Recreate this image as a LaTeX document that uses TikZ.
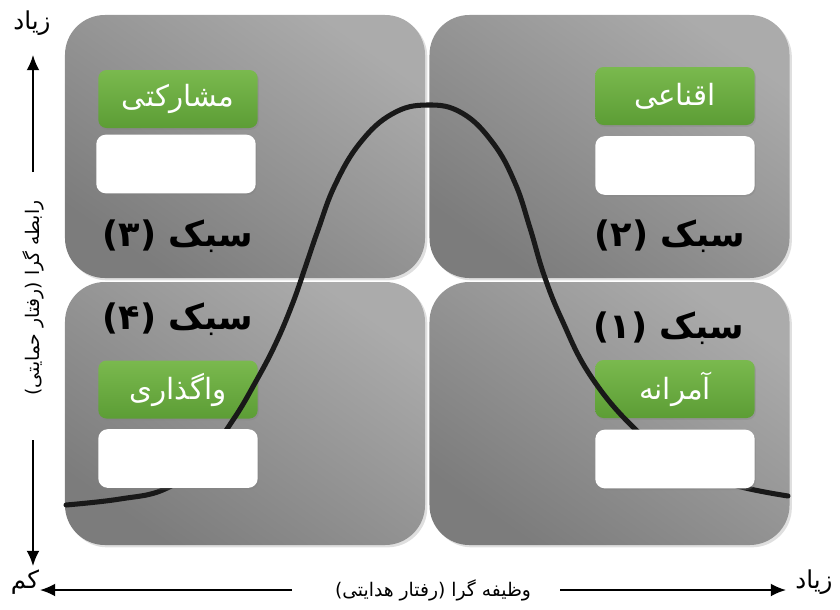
\documentclass[tikz,border=0pt]{standalone}
\usepackage{fontspec}
\usetikzlibrary{shadows,arrows.meta}
\newfontfamily\arabicfont[Script=Arabic]{DejaVu Sans}
\TeXXeTstate=1
\definecolor{gtop}{HTML}{7AB94E}
\definecolor{gbot}{HTML}{5C9D35}
\definecolor{ptop}{HTML}{ABABAB}
\definecolor{pbot}{HTML}{7C7C7C}
\begin{document}
\begin{tikzpicture}[x=0.03cm,y=-0.03cm,
  panel/.style={rounded corners=34pt, top color=ptop, bottom color=pbot, shading angle=-35,
    minimum width=10.8cm, minimum height=7.89cm, inner sep=0pt,
    drop shadow={opacity=0.25, shadow xshift=2pt, shadow yshift=-2pt}},
  greenbox/.style={rounded corners=7pt, top color=gtop, bottom color=gbot,
    minimum width=4.78cm, minimum height=1.74cm, inner sep=0pt, text=white,
    font=\arabicfont\fontsize{25}{28}\selectfont,
    drop shadow={opacity=0.3, shadow xshift=1pt, shadow yshift=-1.5pt}},
  whitebox/.style={rounded corners=8pt, fill=white,
    minimum width=4.78cm, minimum height=1.76cm, inner sep=0pt,
    drop shadow={opacity=0.3, shadow xshift=1pt, shadow yshift=-1.5pt}},
  style/.style={font=\arabicfont\bfseries\fontsize{30}{34}\selectfont, inner sep=0pt},
  curve/.style={line width=4.3pt, black!90, line cap=round},
  axis/.style={line width=1.6pt, -{Latex[length=13pt,width=11pt]}},
  axlab/.style={font=\arabicfont\fontsize{16}{19}\selectfont, inner sep=0pt},
  endlab/.style={font=\arabicfont\fontsize{21}{24}\selectfont, inner sep=0pt}]
\useasboundingbox (0,0) rectangle (840,609);
% panels
\node[panel] (p3) at (245,146.5) {};
\node[panel] (p2) at (609.5,146.5) {};
\node[panel] (p4) at (245,413.5) {};
\node[panel] (p1) at (609.5,413.5) {};
% green boxes
\node[greenbox] (g3) at (178,99) {\beginR مشارکتی\endR};
\node[greenbox] (g2) at (675,96) {\beginR اقناعی\endR};
\node[greenbox] (g4) at (178,389.5) {\beginR واگذاری\endR};
\node[greenbox] (g1) at (675,389) {\beginR آمرانه\endR};
% style labels
\node[style] (s3) at (178,236) {\beginR سبک (۳)\endR};
\node[style] (s2) at (670,236) {\beginR سبک (۲)\endR};
\node[style] (s4) at (178,319) {\beginR سبک (۴)\endR};
\node[style] (s1) at (669,328) {\beginR سبک (۱)\endR};
% curve
\draw[curve] plot[smooth, tension=0.7] coordinates {
 (66,505) (120,499) (165,489) (202,462) (233,420) (255,383) (275,345) (292,305)
 (305,268) (318,230) (335,185) (360,143) (392,114) (427,105) (462,113) (493,143)
 (515,183) (530,228) (544,275) (562,320) (590,375) (633,427) (680,463) (730,484)
 (788,496)};
% white boxes
\node[whitebox] (w3) at (176,164) {};
\node[whitebox] (w2) at (675,165.5) {};
\node[whitebox] (w4) at (178,458.5) {};
\node[whitebox] (w1) at (675,459) {};
% axes
\node[endlab] (ztop) at (32,23) {\beginR زیاد\endR};
\node[endlab] (kam) at (25,582) {\beginR کم\endR};
\node[endlab] (zright) at (814,582) {\beginR زیاد\endR};
\node[axlab, rotate=90] (vlab) at (33,298) {\beginR رابطه گرا (رفتار حمایتی)\endR};
\node[axlab] (hlab) at (433,590) {\beginR وظیفه گرا (رفتار هدایتی)\endR};
\coordinate (vt) at (33,55);
\coordinate (vb) at (33,566);
\coordinate (v1) at (33,172);
\coordinate (v2) at (33,440);
\coordinate (hl) at (40,590);
\coordinate (hr) at (786,590);
\coordinate (h1) at (292,590);
\coordinate (h2) at (560,590);
\draw[axis] (v1) -- (vt);
\draw[axis] (v2) -- (vb);
\draw[axis] (h1) -- (hl);
\draw[axis] (h2) -- (hr);
\end{tikzpicture}
\end{document}
